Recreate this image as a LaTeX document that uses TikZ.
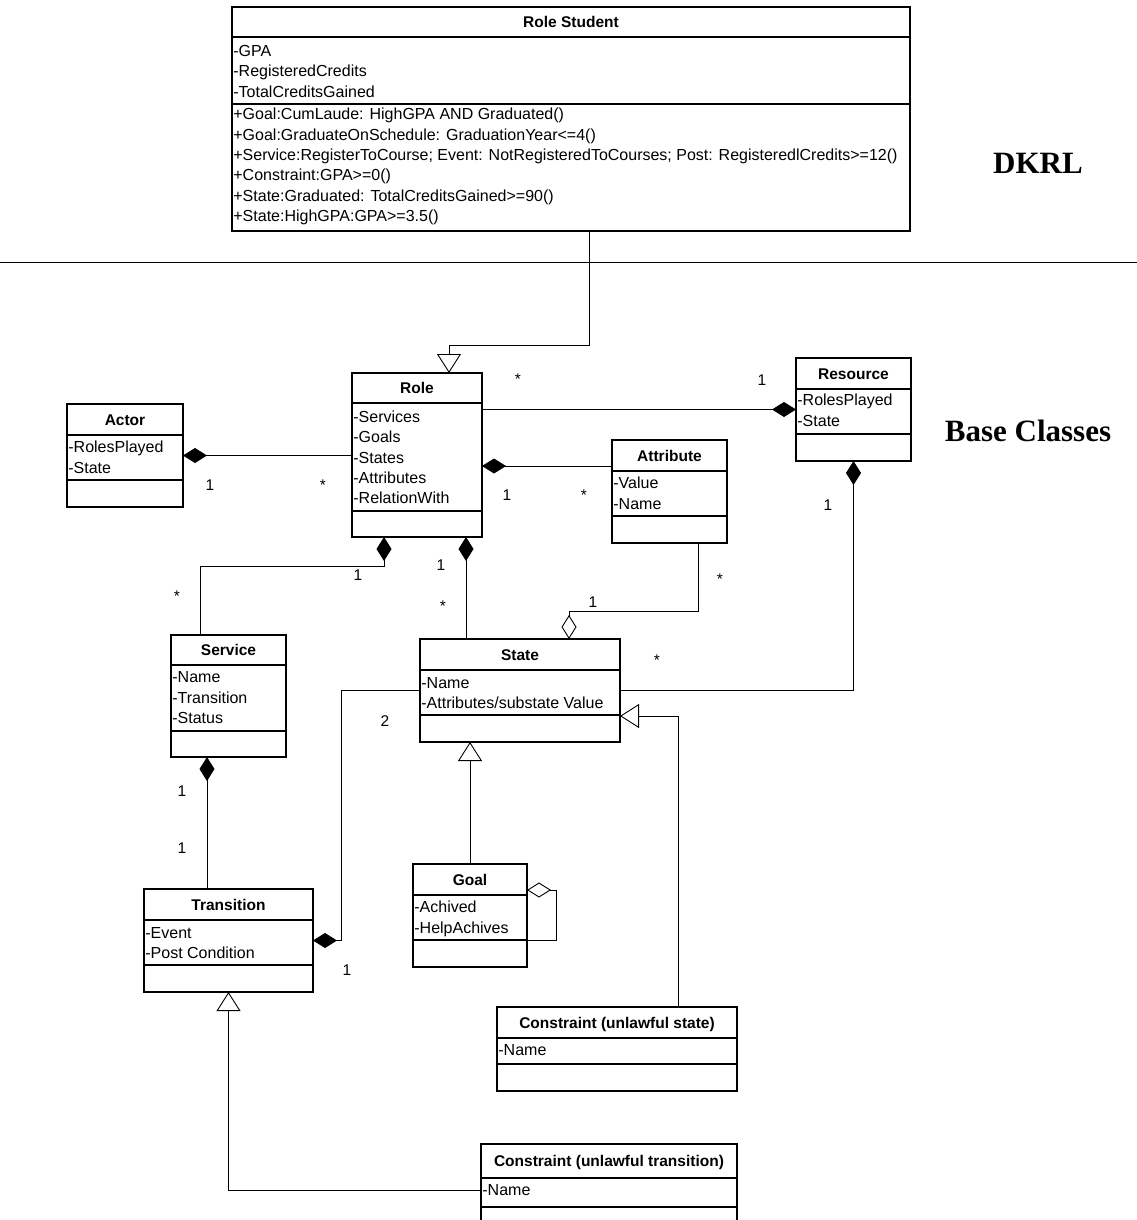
\documentclass[tikz,border=0pt]{standalone}
\usepackage{fontspec}
\setmainfont{Liberation Sans}
\newfontfamily\serifnero{Liberation Serif}
\usetikzlibrary{arrows.meta, calc}

\begin{document}
\begin{tikzpicture}[
    x=1pt, y=-1pt,
    classe/.style   = {draw, line width=1.3pt, inner sep=0pt, outer sep=0pt},
    divisore/.style = {line width=1.6pt},
    titolo/.style   = {font=\bfseries\fontsize{15.5}{18}\selectfont, inner sep=0pt, text height=11pt, text depth=0pt},
    voce/.style     = {font=\fontsize{16}{18}\selectfont, anchor=base west, inner xsep=1.2pt, inner ysep=0pt},
    molt/.style     = {font=\fontsize{15.5}{18}\selectfont, inner sep=0pt, text height=11pt, text depth=0pt},
    linea/.style    = {line width=0.9pt},
    compos/.style   = {linea, -{Diamond[length=24pt,width=15pt]}},
    aggreg/.style   = {linea, -{Diamond[open,fill=white,length=24pt,width=15pt]}},
    eredita/.style  = {linea, -{Triangle[open,fill=white,length=19pt,width=24pt]}},
    scritta/.style  = {font=\serifnero\bfseries\fontsize{31}{36}\selectfont, inner sep=0pt}
]
\useasboundingbox (0,0) rectangle (1137,1220);
\clip (0,0) rectangle (1137,1220);

% ---- classi ----
\node[classe, minimum width=678pt, minimum height=224pt] (rs)    at (571,119)    {};
\node[classe, minimum width=130pt, minimum height=164pt] (role)  at (417,455)    {};
\node[classe, minimum width=116pt, minimum height=103pt] (actor) at (125,455.5)  {};
\node[classe, minimum width=115pt, minimum height=103pt] (res)   at (853.5,409.5){};
\node[classe, minimum width=115pt, minimum height=103pt] (attr)  at (669.5,491.5){};
\node[classe, minimum width=115pt, minimum height=122pt] (serv)  at (228.5,696)  {};
\node[classe, minimum width=200pt, minimum height=103pt] (state) at (520,690.5)  {};
\node[classe, minimum width=114pt, minimum height=103pt] (goal)  at (470,915.5)  {};
\node[classe, minimum width=169pt, minimum height=103pt] (trans) at (228.5,940.5){};
\node[classe, minimum width=240pt, minimum height=84pt]  (cs)    at (617,1049)   {};
\node[classe, minimum width=256pt, minimum height=92pt]  (ct)    at (609,1190)   {};

% ---- compartimenti ----
\foreach \c/\a/\b in {rs/30/97, role/30/138, actor/31/76, res/31/76, attr/31/76, serv/30/96,
                      state/31/76, goal/31/76, trans/31/76, cs/31/57, ct/34/63}{
    \draw[divisore] ($(\c.north west)+(0,\a)$) -- ($(\c.north east)+(0,\a)$);
    \draw[divisore] ($(\c.north west)+(0,\b)$) -- ($(\c.north east)+(0,\b)$);
}

% ---- titoli ----
\node[titolo] (rs-t)    at ($(rs.north)+(0,15)$)    {Role Student};
\node[titolo] (role-t)  at ($(role.north)+(0,15)$)  {Role};
\node[titolo] (actor-t) at ($(actor.north)+(0,15.5)$) {Actor};
\node[titolo] (res-t)   at ($(res.north)+(0,15.5)$)   {Resource};
\node[titolo] (attr-t)  at ($(attr.north)+(0,15.5)$)  {Attribute};
\node[titolo] (serv-t)  at ($(serv.north)+(0,15)$)  {Service};
\node[titolo] (state-t) at ($(state.north)+(0,15.5)$) {State};
\node[titolo] (goal-t)  at ($(goal.north)+(0,15.5)$)  {Goal};
\node[titolo] (trans-t) at ($(trans.north)+(0,15.5)$) {Transition};
\node[titolo] (cs-t)    at ($(cs.north)+(0,15.5)$)    {Constraint (unlawful state)};
\node[titolo] (ct-t)    at ($(ct.north)+(0,17)$)    {Constraint (unlawful transition)};

% ---- attributi e operazioni ----
\foreach [count=\i] \t in {-GPA,-RegisteredCredits,-TotalCreditsGained}
    \node[voce] (rs-a\i) at ($(rs.north west)+(0,{29+20.5*\i})$) {\t};
\foreach [count=\i] \t in {+Goal:CumLaude: HighGPA AND Graduated(),
                           +Goal:GraduateOnSchedule: GraduationYear<=4(),
                           +Service:RegisterToCourse; Event: NotRegisteredToCourses; Post: RegisteredlCredits>=12(),
                           +Constraint:GPA>=0(),
                           +State:Graduated: TotalCreditsGained>=90(),
                           +State:HighGPA:GPA>=3.5()}
    \node[voce] (rs-m\i) at ($(rs.north west)+(0,{92.7+20.3*\i})$) {\t};
\foreach [count=\i] \t in {-Services,-Goals,-States,-Attributes,-RelationWith}
    \node[voce] (role-a\i) at ($(role.north west)+(0,{29.2+20.3*\i})$) {\t};
\foreach [count=\i] \t in {-RolesPlayed,-State}
    \node[voce] (actor-a\i) at ($(actor.north west)+(0,{28+20.5*\i})$) {\t};
\foreach [count=\i] \t in {-RolesPlayed,-State}
    \node[voce] (res-a\i) at ($(res.north west)+(0,{27+20.5*\i})$) {\t};
\foreach [count=\i] \t in {-Value,-Name}
    \node[voce] (attr-a\i) at ($(attr.north west)+(0,{28+20.5*\i})$) {\t};
\foreach [count=\i] \t in {-Name,-Transition,-Status}
    \node[voce] (serv-a\i) at ($(serv.north west)+(0,{27+20.5*\i})$) {\t};
\foreach [count=\i] \t in {-Name,-Attributes/substate Value}
    \node[voce] (state-a\i) at ($(state.north west)+(0,{29.5+20*\i})$) {\t};
\foreach [count=\i] \t in {-Achived,-HelpAchives}
    \node[voce] (goal-a\i) at ($(goal.north west)+(0,{28+20.5*\i})$) {\t};
\foreach [count=\i] \t in {-Event,-Post Condition}
    \node[voce] (trans-a\i) at ($(trans.north west)+(0,{29.5+20*\i})$) {\t};
\node[voce] (cs-a1) at ($(cs.north west)+(0,48.5)$) {-Name};
\node[voce] (ct-a1) at ($(ct.north west)+(0,51.5)$) {-Name};

% ---- livelli ----
\draw[linea] (0,262) -- (1137,262);
\node[scritta] (dkrl)  at (1038,163) {DKRL};
\node[scritta] (base)  at (1028,431) {Base Classes};

% ---- relazioni ----
\draw[eredita] ($(rs.south)+(18,0)$) -- ++(0,114) -| ($(role.north)+(32,0)$);
\draw[compos] (role.west |- actor.east) -- (actor.east);
\draw[compos] (role.east |- res.west) -- (res.west);
\coordinate (attr-in) at ($(attr.north west)+(0,26)$);
\draw[compos] (attr-in) -- (role.east |- attr-in);
\coordinate (role-s) at ($(role.south west)+(32,0)$);
\draw[compos] ($(serv.north west)+(29,0)$) |- ($(role-s)+(0,29)$) -- (role-s);
\coordinate (role-z) at ($(role.south east)+(-16,0)$);
\draw[compos] (state.north -| role-z) -- (role-z);
\coordinate (attr-u) at ($(attr.south east)+(-29,0)$);
\coordinate (state-o) at ($(state.north)+(49,0)$);
\draw[aggreg] (attr-u) |- ($(state-o)+(0,-28)$) -- (state-o);
\draw[compos] (state.east) -| (res.south);
\coordinate (serv-u) at ($(serv.south)+(-21.5,0)$);
\draw[compos] (trans.north -| serv-u) -- (serv-u);
\draw[compos] (state.west) -- ++(-79,0) |- (trans.east);
\draw[eredita] (goal.north) -- (state.south -| goal.north);
\draw[aggreg] ($(goal.north east)+(0,76)$) -- ++(29,0) |- ($(goal.north east)+(0,26)$);
\coordinate (state-r) at ($(state.east)+(0,25.5)$);
\draw[eredita] ($(cs.north)+(61,0)$) |- (state-r);
\draw[eredita] (ct.west) -| (trans.south);

% ---- molteplicita ----
\node[molt] (m1)  at (210,485) {1};
\node[molt] (m2)  at (323,485) {*};
\node[molt] (m3)  at (518,379) {*};
\node[molt] (m4)  at (762,380) {1};
\node[molt] (m5)  at (507,495) {1};
\node[molt] (m6)  at (584,495) {*};
\node[molt] (m7)  at (828,505) {1};
\node[molt] (m8)  at (720,579) {*};
\node[molt] (m9)  at (593,602) {1};
\node[molt] (m10) at (358,575) {1};
\node[molt] (m11) at (177,596) {*};
\node[molt] (m12) at (441,565) {1};
\node[molt] (m13) at (443,606) {*};
\node[molt] (m14) at (657,660) {*};
\node[molt] (m15) at (385,721) {2};
\node[molt] (m16) at (182,791) {1};
\node[molt] (m17) at (182,848) {1};
\node[molt] (m18) at (347,970) {1};

\end{tikzpicture}
\end{document}
